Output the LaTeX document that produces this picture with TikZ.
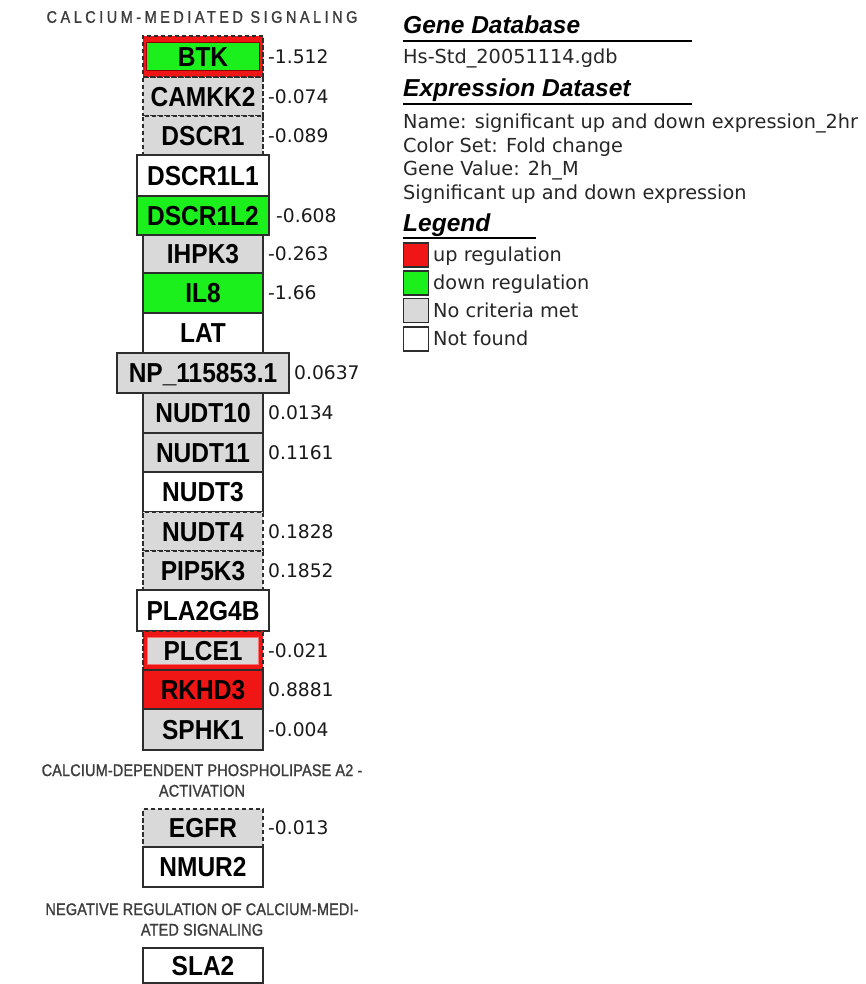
\documentclass[tikz,border=0pt]{standalone}
\usepackage{fontspec}
\setmainfont{Liberation Sans}
\newfontfamily\vfont{DejaVu Sans}
\newfontfamily\tfont[FakeStretch=0.86,LetterSpace=1,FakeBold=1.2]{Liberation Sans}
\newfontfamily\tfontsp[FakeStretch=0.86,LetterSpace=21,FakeBold=1.2]{Liberation Sans}
\definecolor{gfill}{RGB}{217,217,217}
\definecolor{upred}{RGB}{240,22,22}
\definecolor{downgreen}{RGB}{28,240,28}
\definecolor{edge}{RGB}{45,45,45}
\definecolor{ttl}{RGB}{60,60,60}
\newcommand\glab[1]{\scalebox{1}[1.12]{#1}}
\newcommand\gene[6]{\node[genebox,#2,minimum width=#5,minimum height=#4-#3] (#1) at (203,{(#3+#4)/2}) {\glab{#6}};}
\begin{document}
\begin{tikzpicture}[x=1pt,y=-1pt,
  genebox/.style={draw=edge,line width=1.7pt,inner sep=0pt,outer sep=0pt,
    font=\fontsize{24.5}{25}\selectfont\bfseries,text=black,text height=19.6pt,text depth=0pt},
  dsh/.style={dash pattern=on 4.5pt off 2.5pt},
  fgray/.style={fill=gfill},
  fwhite/.style={fill=white},
  fred/.style={fill=upred},
  fgreen/.style={fill=downgreen},
  val/.style={anchor=west,inner sep=1pt,font=\vfont\fontsize{18.7}{20}\selectfont,text=black!90},
  ttlnode/.style={font=\tfont\fontsize{16.8}{20.5}\selectfont,text=ttl,align=center,inner sep=0pt},
  head/.style={anchor=base west,inner sep=0pt,font=\fontsize{24.5}{26}\selectfont\bfseries\itshape},
  uline/.style={line width=2.6pt,draw=black},
  info/.style={anchor=base west,inner sep=0pt,font=\vfont\fontsize{19.3}{20}\selectfont,text=black!85},
  legbox/.style={draw=edge,line width=1.4pt,minimum width=25pt,minimum height=24pt,inner sep=0pt}
]
\useasboundingbox (0,0) rectangle (865,984);

% ---- titles
\node[ttlnode,font=\tfontsp\fontsize{16.8}{20}\selectfont] (t1) at (202,17) {CALCIUM-MEDIATED SIGNALING};
\node[ttlnode] (t2) at (202,780.5) {CALCIUM-DEPENDENT PHOSPHOLIPASE A2 -\\ACTIVATION};
\node[ttlnode] (t3) at (202,919.5) {NEGATIVE REGULATION OF CALCIUM-MEDI-\\ATED SIGNALING};

% ---- genes
\gene{camkk2}{fgray,dsh}{77}{116}{120}{CAMKK2}
\gene{dscr1}{fgray,dsh}{116}{155}{120}{DSCR1}
\node[genebox,fred,dsh,minimum width=120,minimum height=41] (btk) at (203,56.5) {};
\node[genebox,fgreen,draw=red!55!black,line width=0.9pt,minimum width=113,minimum height=28] (btki) at (btk.center) {\glab{BTK}};
\gene{dscr1l1}{fwhite}{155}{196}{132}{DSCR1L1}
\gene{dscr1l2}{fgreen}{196}{235}{132}{DSCR1L2}
\gene{ihpk3}{fgray}{235}{273}{120}{IHPK3}
\gene{il8}{fgreen}{273}{313}{120}{IL8}
\gene{lat}{fwhite}{313}{353}{120}{LAT}
\gene{np}{fgray}{353}{393}{172}{NP\_115853.1}
\gene{nudt10}{fgray}{393}{433}{120}{NUDT10}
\gene{nudt11}{fgray}{433}{472}{120}{NUDT11}
\gene{nudt3}{fwhite}{472}{512}{120}{NUDT3}
\gene{nudt4}{fgray,dsh}{512}{551}{120}{NUDT4}
\gene{pip5k3}{fgray,dsh}{551}{590}{120}{PIP5K3}
\gene{pla2g4b}{fwhite}{590}{631}{132}{PLA2G4B}
\node[genebox,fred,dsh,minimum width=120,minimum height=39] (plce1) at (203,650.5) {};
\node[genebox,fgray,draw=upred!60!white,line width=0.9pt,minimum width=111,minimum height=27] (plce1i) at (plce1.center) {\glab{PLCE1}};
\gene{rkhd3}{fred}{670}{709}{120}{RKHD3}
\gene{sphk1}{fgray}{709}{750}{120}{SPHK1}
\gene{egfr}{fgray,dsh}{809}{847}{120}{EGFR}
\gene{nmur2}{fwhite}{847}{887}{120}{NMUR2}
\gene{sla2}{fwhite}{948}{983}{120}{SLA2}

% ---- values
\node[val] (btkv) at ([xshift=4pt]btk.east) {-1.512};
\node[val] (camkk2v) at ([xshift=4pt]camkk2.east) {-0.074};
\node[val] (dscr1v) at ([xshift=4pt]dscr1.east) {-0.089};
\node[val] (dscr1l2v) at ([xshift=6pt]dscr1l2.east) {-0.608};
\node[val] (ihpk3v) at ([xshift=4pt]ihpk3.east) {-0.263};
\node[val] (il8v) at ([xshift=4pt]il8.east) {-1.66};
\node[val] (npv) at ([xshift=4pt]np.east) {0.0637};
\node[val] (nudt10v) at ([xshift=4pt]nudt10.east) {0.0134};
\node[val] (nudt11v) at ([xshift=4pt]nudt11.east) {0.1161};
\node[val] (nudt4v) at ([xshift=4pt]nudt4.east) {0.1828};
\node[val] (pip5k3v) at ([xshift=4pt]pip5k3.east) {0.1852};
\node[val] (plce1v) at ([xshift=4pt]plce1.east) {-0.021};
\node[val] (rkhd3v) at ([xshift=4pt]rkhd3.east) {0.8881};
\node[val] (sphk1v) at ([xshift=4pt]sphk1.east) {-0.004};
\node[val] (egfrv) at ([xshift=4pt]egfr.east) {-0.013};

% ---- legend / info
\node[head] (hgdb) at (403,33.3) {Gene Database};
\draw[uline] (403,41) -- (692,41);
\node[info] (gdb) at (403,64) {Hs-Std\_20051114.gdb};
\node[head] (hexp) at (403,96.7) {Expression Dataset};
\draw[uline] (403,104) -- (692,104);
\node[info] (i1) at (403,128.3) {Name: significant up and down expression\_2hr};
\node[info] (i2) at (403,152.3) {Color Set: Fold change};
\node[info] (i3) at (403,175.7) {Gene Value: 2h\_M};
\node[info] (i4) at (403,199.3) {Significant up and down expression};
\node[head] (hleg) at (403,231.7) {Legend};
\draw[uline] (403,238) -- (536,238);
\node[legbox,fill=upred] (lb1) at (416,255) {};
\node[legbox,fill=downgreen] (lb2) at (416,283) {};
\node[legbox,fill=gfill] (lb3) at (416,310.5) {};
\node[legbox,fill=white] (lb4) at (416,339) {};
\node[info] (lt1) at (433,261.7) {up regulation};
\node[info] (lt2) at (433,289.3) {down regulation};
\node[info] (lt3) at (433,317.3) {No criteria met};
\node[info] (lt4) at (433,345) {Not found};
\end{tikzpicture}
\end{document}
